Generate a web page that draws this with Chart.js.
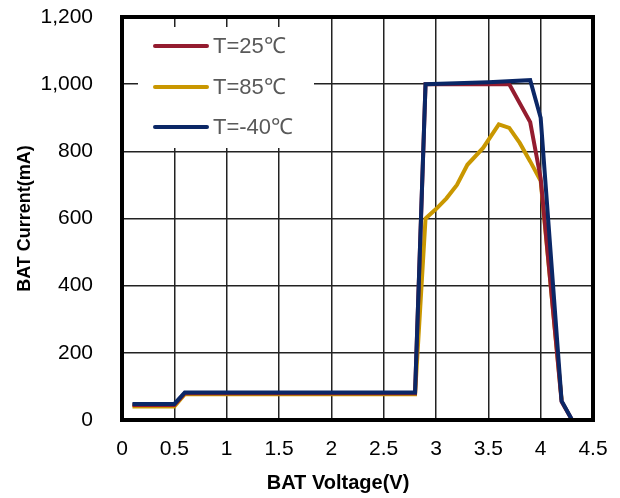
<!DOCTYPE html>
<html>
<head>
<meta charset="utf-8">
<script src="https://cdn.jsdelivr.net/npm/chart.js@4"></script>
<style>
  html, body { margin: 0; padding: 0; background: #fff; }
</style>
</head>
<body>
<canvas id="chart" width="620" height="498"></canvas>
<script>
// readings (V, mA)
const seriesNames = ['T=25\u2103', 'T=85\u2103', 'T=-40\u2103'];
const seriesColors = ['#941c2f', '#c99700', '#0b2766'];

const volt25 = [0.1, 0.5, 0.6, 2.8, 2.9, 3.7, 3.9, 4.0, 4.2, 4.3];
const amp25  = [45, 45, 80, 80, 1000, 1000, 887, 720, 55, 0];

const volt85 = [0.1, 0.5, 0.6, 2.8, 2.9, 3.0, 3.1, 3.2, 3.3, 3.45, 3.6, 3.7, 3.8, 3.9, 4.0, 4.2];
const amp85  = [40, 40, 77, 77, 600, 628, 660, 700, 760, 810, 880, 870, 825, 770, 712, 60];

const voltM40 = [0.1, 0.5, 0.6, 2.8, 2.9, 3.5, 3.9, 4.0, 4.2, 4.3];
const ampM40  = [48, 48, 82, 82, 1000, 1006, 1012, 900, 57, 0];

const xTicks = [0, 0.5, 1, 1.5, 2, 2.5, 3, 3.5, 4, 4.5];
const xTitle = 'BAT Voltage(V)';

function pts(xs, ys) {
  return xs.map((x, i) => ({ x: x, y: ys[i] }));
}

const boxLegend = {
  id: 'boxLegend',
  beforeDatasetsDraw(chart) {
    const ctx = chart.ctx;
    ctx.save();
    ctx.fillStyle = '#fff';
    ctx.fillRect(138, 27, 176, 121);
    const rows = [46, 87, 127];
    chart.data.datasets.forEach((ds, i) => {
      ctx.strokeStyle = ds.borderColor;
      ctx.lineWidth = 4;
      ctx.lineCap = 'round';
      ctx.beginPath();
      ctx.moveTo(155, rows[i]);
      ctx.lineTo(207, rows[i]);
      ctx.stroke();
      ctx.fillStyle = '#595959';
      ctx.font = '22px "Liberation Sans", Arial, sans-serif';
      ctx.textBaseline = 'middle';
      ctx.fillText(ds.label, 213, rows[i] + 1);
    });
    ctx.restore();
  },
  afterDraw(chart) {
    const a = chart.chartArea;
    const ctx = chart.ctx;
    ctx.save();
    ctx.strokeStyle = '#000';
    ctx.lineWidth = 4;
    ctx.strokeRect(a.left, a.top, a.right - a.left, a.bottom - a.top);
    // x axis title sits a little left of centre in the original
    ctx.fillStyle = '#000';
    ctx.font = 'bold 20px "Liberation Sans", Arial, sans-serif';
    ctx.textAlign = 'center';
    ctx.textBaseline = 'middle';
    ctx.fillText(xTitle, 338, 483);
    ctx.restore();
  }
};

const drawOrder = [1, 2, 0];
const datasets = [
  { label: seriesNames[0], data: pts(volt25, amp25), borderColor: seriesColors[0] },
  { label: seriesNames[1], data: pts(volt85, amp85), borderColor: seriesColors[1] },
  { label: seriesNames[2], data: pts(voltM40, ampM40), borderColor: seriesColors[2] }
].map((ds, i) => Object.assign(ds, {
  showLine: true, borderWidth: 4, pointRadius: 0, tension: 0, fill: false,
  backgroundColor: ds.borderColor, order: drawOrder[i]
}));

function noOverflow(s) {
  s.paddingTop = 0; s.paddingBottom = 0; s.paddingLeft = 0; s.paddingRight = 0;
}

new Chart(document.getElementById('chart'), {
  type: 'scatter',
  data: { datasets: datasets },
  plugins: [boxLegend],
  options: {
    responsive: false,
    animation: false,
    layout: { padding: { top: 17, right: 27, left: 0, bottom: 0 } },
    plugins: { legend: { display: false }, tooltip: { enabled: false } },
    scales: {
      x: {
        type: 'linear', min: 0, max: 4.5,
        afterBuildTicks: s => { s.ticks = xTicks.map(v => ({ value: v })); },
        afterFit: s => { s.height = 78; noOverflow(s); },
        grid: { color: '#222', lineWidth: 1.5, drawTicks: false },
        border: { display: false },
        ticks: { color: '#000', padding: 17, callback: v => String(v),
                 font: { family: '"Liberation Sans", Arial', size: 21 } }
      },
      y: {
        min: 0, max: 1200,
        ticks: { stepSize: 200, color: '#000', padding: 29, font: { family: '"Liberation Sans", Arial', size: 21 } },
        afterFit: s => { s.width = 122; noOverflow(s); },
        grid: { color: '#222', lineWidth: 1.5, drawTicks: false },
        border: { display: false },
        title: { display: true, text: 'BAT Current(mA)', color: '#000', padding: { top: 14 },
                 font: { family: '"Liberation Sans", Arial', size: 18, weight: 'bold' } }
      }
    }
  }
});
</script>
</body>
</html>
